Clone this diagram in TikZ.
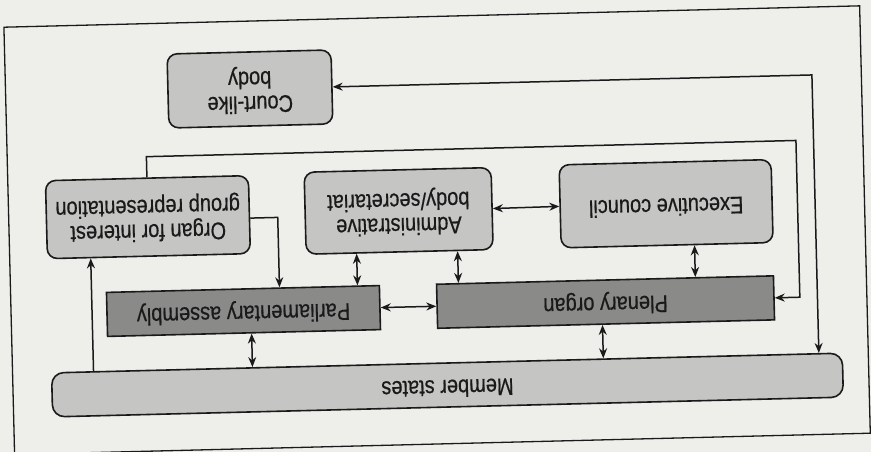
\documentclass[tikz,border=0pt]{standalone}
\usepackage{fontspec}
\setmainfont{Liberation Sans}
\newfontface\diagface{Liberation Sans}[FakeBold=0.6]
\usepackage{graphicx}
\usetikzlibrary{arrows.meta}
\definecolor{cBg}{HTML}{EEEEEB}
\definecolor{cLight}{HTML}{C5C5C3}
\definecolor{cDark}{HTML}{8A8A88}
\definecolor{cInk}{HTML}{1A1A1A}
\newcommand{\ud}[1]{\rotatebox[origin=c]{180}{\scalebox{1}[1.2]{\begin{tabular}{@{}c@{}}#1\end{tabular}}}}
\begin{document}
\begin{tikzpicture}[x=1pt,y=-1pt,
  softbox/.style={draw=cInk,line width=1.6pt,fill=cLight,rounded corners=10pt,inner sep=0pt,text=cInk,font=\diagface\fontsize{20}{20}\selectfont},
  hardbox/.style={draw=cInk,line width=1.6pt,fill=cDark,inner sep=0pt,text=cInk,font=\diagface\fontsize{20}{20}\selectfont},
  conn/.style={draw=cInk,line width=1.5pt},
  dbl/.style={conn,{Stealth[length=10pt,width=8pt]}-{Stealth[length=10pt,width=8pt]}},
  single/.style={conn,-{Stealth[length=10pt,width=8pt]}},
  frame/.style={draw=cInk,line width=1.3pt}]
\path[use as bounding box,fill=cBg] (0,0) rectangle (871,452);
\begin{scope}[rotate around={1.43:(435,226)},transform shape]
\draw[frame] (9,16.5) rectangle (865,444);
\node[softbox,minimum width=164pt,minimum height=74pt] (court) at (253.4,84.4) {\ud{Court-like\\body}};
\node[softbox,minimum width=203pt,minimum height=78pt] (organ) at (148.2,210) {\ud{Organ for interest\\group representation}};
\node[softbox,minimum width=187pt,minimum height=82pt] (admin) at (399,210) {\ud{Administrative\\body/secretariat}};
\node[softbox,minimum width=212pt,minimum height=83pt] (exec) at (666.6,209.5) {\ud{Executive council}};
\node[hardbox,minimum width=273pt,minimum height=44pt] (parl) at (241.4,306.2) {\ud{Parliamentary assembly}};
\node[hardbox,minimum width=337pt,minimum height=44pt] (plen) at (603.6,306.3) {\ud{Plenary organ}};
\node[softbox,rounded corners=12pt,minimum width=791pt,minimum height=44pt] (member) at (443.5,385.3) {\ud{Member states}};
\coordinate (xa) at (356,0);
\coordinate (xb) at (457,0);
\coordinate (xc) at (694,0);
\coordinate (xd) at (249,0);
\coordinate (xe) at (600,0);
\coordinate (xf) at (90,0);
\coordinate (xg) at (278,0);
\coordinate (ye) at (0,213.5);
\coordinate (top1) at (798,149.5);
\coordinate (top2) at (815.6,84.4);
\draw[dbl] (admin.east) -- (exec.west);
\draw[dbl] (admin.south -| xa) -- (parl.north -| xa);
\draw[dbl] (admin.south -| xb) -- (plen.north -| xb);
\draw[dbl] (exec.south -| xc) -- (plen.north -| xc);
\draw[dbl] (parl.east) -- (plen.west);
\draw[dbl] (parl.south -| xd) -- (member.north -| xd);
\draw[dbl] (plen.south -| xe) -- (member.north -| xe);
\draw[single] (member.north -| xf) -- (organ.south -| xf);
\draw[single] (organ.east |- ye) -| (parl.north -| xg);
\draw[single] (organ.north) |- (top1) |- (plen.east);
\draw[dbl] (court.east) -| (member.north -| top2);
\end{scope}
\end{tikzpicture}
\end{document}
